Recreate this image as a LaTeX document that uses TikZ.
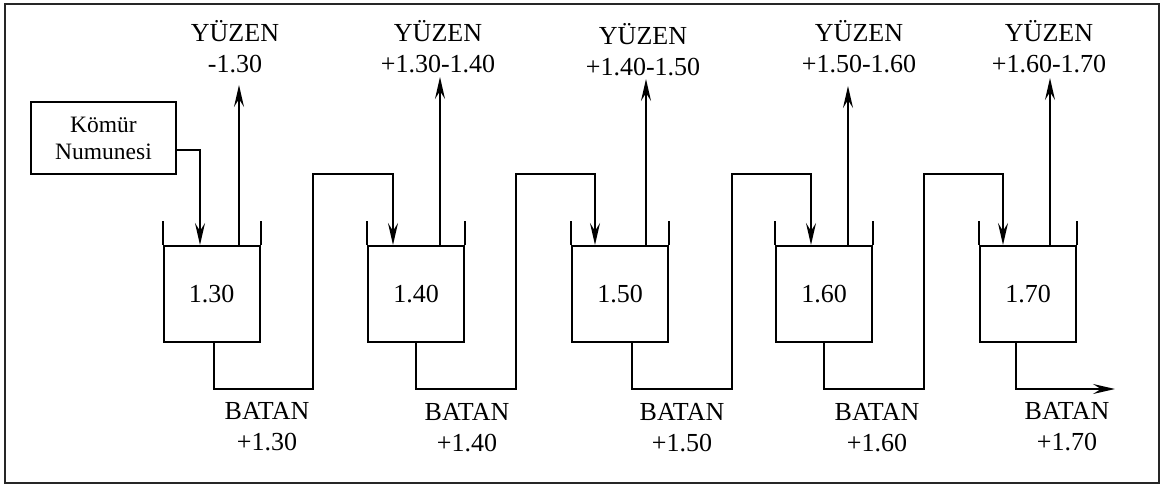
\documentclass[tikz,border=0pt]{standalone}
\usepackage{fontspec}
\setmainfont{Liberation Serif}
\usetikzlibrary{arrows.meta}
\begin{document}
\begin{tikzpicture}[x=1pt,y=-1pt,
  line width=2pt,
  flow/.style={-{Stealth[length=22pt,width=10pt,inset=8pt]}},
  pipe/.style={line join=miter},
  beaker/.style={draw, minimum width=96pt, minimum height=96pt, inner sep=0pt, font=\fontsize{26}{30}\selectfont},
  lbl/.style={align=center, font=\fontsize{26}{31}\selectfont, inner sep=0pt},
  src/.style={draw, minimum width=145pt, minimum height=72pt, align=center, font=\fontsize{23.5}{27}\selectfont, inner sep=0pt}]
\useasboundingbox (0,0) rectangle (1165,486);
\draw[line width=2.2pt, black!85] (5,4) rectangle (1159,483);

% beakers
\node[beaker] (b1) at (211.5,294) {1.30};
\node[beaker] (b2) at (416,294) {1.40};
\node[beaker] (b3) at (620,294) {1.50};
\node[beaker] (b4) at (824,294) {1.60};
\node[beaker] (b5) at (1028,294) {1.70};
\foreach \b in {b1,b2,b3,b4,b5}{
  \draw (\b.north west) -- ++(0,-24);
  \draw (\b.north east) -- ++(0,-24);
}

% source
\node[src] (km) at (103.5,138) {Kömür\\Numunesi};

% labels
\node[lbl] (y1) at (235,47) {YÜZEN\\-1.30};
\node[lbl] (y2) at (438,47) {YÜZEN\\+1.30-1.40};
\node[lbl] (y3) at (643,50) {YÜZEN\\+1.40-1.50};
\node[lbl] (y4) at (859,47) {YÜZEN\\+1.50-1.60};
\node[lbl] (y5) at (1049,47) {YÜZEN\\+1.60-1.70};
\node[lbl] (t1) at (267,427) {BATAN\\+1.30};
\node[lbl] (t2) at (467,428) {BATAN\\+1.40};
\node[lbl] (t3) at (682,428) {BATAN\\+1.50};
\node[lbl] (t4) at (877,428) {BATAN\\+1.60};
\node[lbl] (t5) at (1067,427) {BATAN\\+1.70};

% up arrows (floats)
\draw[flow] ([xshift=27.5pt]b1.north) -- ++(0,-160);
\draw[flow] ([xshift=24pt]b2.north) -- ++(0,-168);
\draw[flow] ([xshift=26pt]b3.north) -- ++(0,-166);
\draw[flow] ([xshift=24pt]b4.north) -- ++(0,-159);
\draw[flow] ([xshift=22pt]b5.north) -- ++(0,-167);

% feed
\draw[flow,pipe] ([yshift=-12pt]km.east) -| ([xshift=-11.5pt]b1.north);

% sinks transfer
\draw[flow,pipe] ([xshift=2.5pt]b1.south) |- (313,389) |- (393,174) -- ([xshift=-23pt]b2.north);
\draw[flow,pipe] (b2.south) |- (516,389) |- (595,174) -- ([xshift=-25pt]b3.north);
\draw[flow,pipe] ([xshift=12pt]b3.south) |- (732,389) |- (811,174) -- ([xshift=-13pt]b4.north);
\draw[flow,pipe] (b4.south) |- (924,389) |- (1003,174) -- ([xshift=-25pt]b5.north);
\draw[flow,pipe] ([xshift=-12pt]b5.south) |- (1115,389);
\end{tikzpicture}
\end{document}
